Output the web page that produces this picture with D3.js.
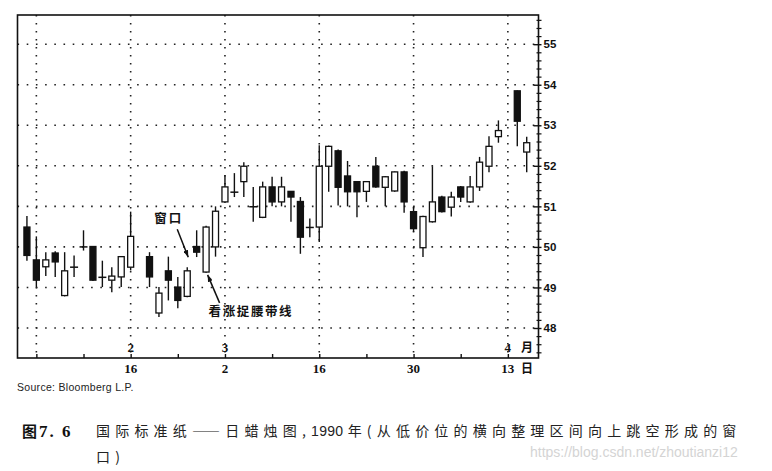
<!DOCTYPE html>
<html lang="zh">
<head>
<meta charset="utf-8">
<script src="https://d3js.org/d3.v7.min.js"></script>
<style>
  body { margin: 0; background: #fff; }
</style>
</head>
<body>
<script>
// daily candles, International Paper, Feb - Apr 1990 (holidays simply absent)
var dates = ["1990-02-01","1990-02-02","1990-02-05","1990-02-06","1990-02-07","1990-02-08","1990-02-09",
  "1990-02-12","1990-02-13","1990-02-14","1990-02-15","1990-02-16",
  "1990-02-20","1990-02-21","1990-02-22","1990-02-23","1990-02-26","1990-02-27","1990-02-28",
  "1990-03-01","1990-03-02","1990-03-05","1990-03-06","1990-03-07","1990-03-08","1990-03-09",
  "1990-03-12","1990-03-13","1990-03-14","1990-03-15","1990-03-16","1990-03-19","1990-03-20",
  "1990-03-21","1990-03-22","1990-03-23","1990-03-26","1990-03-27","1990-03-28","1990-03-29",
  "1990-03-30","1990-04-02","1990-04-03","1990-04-04","1990-04-05","1990-04-06","1990-04-09",
  "1990-04-10","1990-04-11","1990-04-12","1990-04-16","1990-04-17"];
var open = [50.49,49.68,49.51,49.85,48.80,49.52,50.02,
  50.01,49.27,49.18,49.26,49.50,
  49.76,48.37,49.41,49.01,48.78,50.01,49.38,
  50.00,51.11,51.37,51.61,51.01,50.73,51.48,
  51.11,51.37,51.12,50.50,50.49,51.99,52.37,
  51.75,51.61,51.37,51.99,51.47,51.38,51.85,
  50.87,49.98,50.62,51.23,50.98,51.48,51.11,
  51.48,51.99,52.72,53.85,52.34];
var high = [50.76,50.26,49.87,49.89,49.87,49.79,50.41,
  50.02,49.66,49.50,49.77,50.87,
  49.87,49.01,49.76,49.26,49.50,50.41,50.52,
  51.00,51.77,51.82,52.09,51.48,51.61,51.73,
  51.73,51.38,51.23,50.70,52.51,52.50,52.40,
  52.12,51.62,51.62,52.22,51.75,51.86,51.88,
  51.00,50.77,51.99,51.26,51.36,51.50,51.75,
  52.22,52.73,53.12,53.86,52.72];
var low = [49.66,49.01,49.28,49.26,48.78,49.26,49.91,
  49.16,49.01,48.88,49.01,49.42,
  49.01,48.27,48.68,48.49,48.76,49.75,49.36,
  49.76,51.08,51.23,51.23,50.62,50.71,51.00,
  51.00,50.62,49.83,50.24,50.12,51.36,51.02,
  51.00,50.73,51.11,51.46,51.00,51.36,50.84,
  50.37,49.75,50.60,50.85,50.75,51.11,51.09,
  51.38,51.84,52.57,52.48,51.84];
var close = [49.79,49.18,49.68,49.63,49.41,49.50,50.00,
  49.18,49.25,49.28,49.76,50.26,
  49.26,48.86,49.18,48.68,49.41,49.87,50.49,
  50.88,51.48,51.35,51.99,50.99,51.48,51.11,
  51.48,51.23,50.24,50.48,51.99,52.48,51.47,
  51.36,51.36,51.61,51.48,51.73,51.85,51.11,
  50.45,50.75,51.11,50.87,51.23,51.23,51.48,
  52.09,52.48,52.87,53.10,52.57];

var priceTicks = [48, 49, 50, 51, 52, 53, 54, 55];
var gridDates = ["1990-02-02","1990-02-16","1990-03-02","1990-03-16","1990-03-30","1990-04-13"];
var weekTickDates = ["1990-02-02","1990-02-09","1990-02-16","1990-02-23","1990-03-02","1990-03-09",
  "1990-03-16","1990-03-23","1990-03-30","1990-04-06","1990-04-13"];
var monthTickDates = ["1990-02-16","1990-03-02","1990-04-13"];
var monthTickText = ["2", "3", "4"];
var dayTickDates = ["1990-02-16","1990-03-02","1990-03-16","1990-03-30","1990-04-13"];
var dayTickText = ["16", "2", "16", "30", "13"];

var width = 772, height = 471;
var frame = {left: 17.5, right: 538.5, top: 15, bottom: 358};

var parse = d3.utcParse("%Y-%m-%d");
var start = parse("1990-01-31");
// position = number of weekdays since the start date
function dayIndex(s) {
  return d3.utcDay.range(start, parse(s)).filter(function(t) {
    var w = t.getUTCDay();
    return w > 0 && w < 6;
  }).length;
}

var x = d3.scaleLinear().domain([0, 55.25]).range([frame.left, frame.right]);
var y = d3.scaleLinear().domain([47.26, 55.72]).range([frame.bottom, frame.top]);

var svg = d3.select("body").append("svg")
    .attr("width", width)
    .attr("height", height);

// dotted grid
svg.append("g").selectAll("line")
    .data(priceTicks)
    .enter().append("line")
    .attr("x1", frame.left).attr("x2", frame.right)
    .attr("y1", function(d) { return y(d); })
    .attr("y2", function(d) { return y(d); })
    .attr("stroke", "#222")
    .attr("stroke-width", 1.6)
    .attr("stroke-dasharray", "1.6,7.6");

svg.append("g").selectAll("line")
    .data(gridDates)
    .enter().append("line")
    .attr("x1", function(d) { return x(dayIndex(d)); })
    .attr("x2", function(d) { return x(dayIndex(d)); })
    .attr("y1", frame.top).attr("y2", frame.bottom)
    .attr("stroke", "#222")
    .attr("stroke-width", 1.6)
    .attr("stroke-dasharray", "1.6,6.4");

svg.append("rect")
    .attr("x", frame.left).attr("y", frame.top)
    .attr("width", frame.right - frame.left)
    .attr("height", frame.bottom - frame.top)
    .attr("fill", "none")
    .attr("stroke", "#111")
    .attr("stroke-width", 1.6);

// right price axis
var minor = y.ticks(40).filter(function(v) { return Math.abs(v - Math.round(v)) > 0.01; });
var minorAxis = svg.append("g")
    .attr("transform", "translate(" + frame.right + ",0)")
    .call(d3.axisRight(y).tickValues(minor).tickSize(3).tickFormat(""));
minorAxis.select(".domain").remove();
minorAxis.selectAll("line").attr("stroke", "#111").attr("stroke-width", 1.2).attr("x1", -2);

var yAxis = svg.append("g")
    .attr("transform", "translate(" + frame.right + ",0)")
    .call(d3.axisRight(y).tickValues(priceTicks).tickSizeInner(-5).tickSizeOuter(0).tickPadding(5));
yAxis.select(".domain").remove();
yAxis.selectAll("line").attr("stroke", "#111").attr("stroke-width", 1.4).attr("x2", 3).attr("x1", -5);
yAxis.selectAll("text")
    .attr("font-family", "'Liberation Sans', Arial, sans-serif")
    .attr("font-size", 11.5)
    .attr("font-weight", "bold")
    .attr("fill", "#111");

// weekly ticks along the bottom edge
var xAxis = svg.append("g")
    .attr("transform", "translate(0," + frame.bottom + ")")
    .call(d3.axisBottom(x).tickValues(weekTickDates.map(dayIndex)).tickSize(-4).tickFormat(""));
xAxis.select(".domain").remove();
xAxis.selectAll("line").attr("stroke", "#111").attr("stroke-width", 1.4);

var labelFont = "'Liberation Serif', 'DejaVu Serif', serif";
svg.append("g").selectAll("text")
    .data(monthTickDates)
    .enter().append("text")
    .attr("x", function(d) { return x(dayIndex(d)); })
    .attr("y", frame.bottom - 6)
    .attr("text-anchor", "middle")
    .attr("font-family", labelFont)
    .attr("font-weight", "bold")
    .attr("font-size", 13)
    .attr("fill", "#111")
    .text(function(d, i) { return monthTickText[i]; });

svg.append("g").selectAll("text")
    .data(dayTickDates)
    .enter().append("text")
    .attr("x", function(d) { return x(dayIndex(d)); })
    .attr("y", frame.bottom + 15)
    .attr("text-anchor", "middle")
    .attr("font-family", labelFont)
    .attr("font-weight", "bold")
    .attr("font-size", 13)
    .attr("fill", "#111")
    .text(function(d, i) { return dayTickText[i]; });

var cjk = "'Noto Sans CJK SC', sans-serif";
svg.append("text").attr("x", 527).attr("y", frame.bottom - 6)
    .attr("text-anchor", "middle").attr("font-family", cjk).attr("font-weight", "bold")
    .attr("font-size", 12).attr("fill", "#111").text("月");
svg.append("text").attr("x", 527).attr("y", frame.bottom + 15)
    .attr("text-anchor", "middle").attr("font-family", cjk).attr("font-weight", "bold")
    .attr("font-size", 12).attr("fill", "#111").text("日");

// candles
var candles = dates.map(function(d, i) {
  return {date: d, o: open[i], h: high[i], l: low[i], c: close[i]};
});
var bodyW = 6;
var node = svg.append("g").selectAll("g")
    .data(candles)
    .enter().append("g")
    .attr("transform", function(d) { return "translate(" + x(dayIndex(d.date)) + ",0)"; });

node.append("line")
    .attr("y1", function(d) { return y(d.h); })
    .attr("y2", function(d) { return y(d.l); })
    .attr("stroke", "#111")
    .attr("stroke-width", 1.4);

node.filter(function(d) { return Math.abs(d.c - d.o) >= 0.04; })
    .append("rect")
    .attr("x", -bodyW / 2)
    .attr("width", bodyW)
    .attr("y", function(d) { return y(Math.max(d.o, d.c)); })
    .attr("height", function(d) { return Math.abs(y(d.o) - y(d.c)); })
    .attr("fill", function(d) { return d.c > d.o ? "#fff" : "#111"; })
    .attr("stroke", "#111")
    .attr("stroke-width", 1.3);

node.filter(function(d) { return Math.abs(d.c - d.o) < 0.04; })
    .append("line")
    .attr("x1", -4).attr("x2", 4)
    .attr("y1", function(d) { return y(d.c); })
    .attr("y2", function(d) { return y(d.c); })
    .attr("stroke", "#111")
    .attr("stroke-width", 1.5);

// annotations
svg.append("defs").append("marker")
    .attr("id", "head")
    .attr("viewBox", "0 0 10 10")
    .attr("refX", 10).attr("refY", 5)
    .attr("markerUnits", "userSpaceOnUse")
    .attr("markerWidth", 7).attr("markerHeight", 5)
    .attr("orient", "auto")
    .attr("preserveAspectRatio", "none")
    .append("path").attr("d", "M0,0L10,5L0,10z").attr("fill", "#111");

var iWin = dates.indexOf("1990-02-26");
var tip1 = [x(dayIndex(dates[iWin])) + 1, y(high[iWin]) - 10];
svg.append("line")
    .attr("x1", tip1[0] - 11).attr("y1", tip1[1] - 28)
    .attr("x2", tip1[0]).attr("y2", tip1[1])
    .attr("stroke", "#111").attr("stroke-width", 1.5)
    .attr("marker-end", "url(#head)");
svg.append("text")
    .attr("x", tip1[0] - 34).attr("y", tip1[1] - 34)
    .attr("font-family", cjk).attr("font-weight", "bold").attr("font-size", 12.5)
    .attr("letter-spacing", 2).attr("fill", "#111")
    .text("窗口");

var iBelt = dates.indexOf("1990-02-28");
var tip2 = [x(dayIndex(dates[iBelt])) + 1.5, y(low[iBelt]) + 2];
svg.append("line")
    .attr("x1", tip2[0] + 12).attr("y1", tip2[1] + 28)
    .attr("x2", tip2[0]).attr("y2", tip2[1])
    .attr("stroke", "#111").attr("stroke-width", 1.5)
    .attr("marker-end", "url(#head)");
svg.append("text")
    .attr("x", tip2[0] + 1).attr("y", tip2[1] + 41)
    .attr("font-family", cjk).attr("font-weight", "bold").attr("font-size", 12.5)
    .attr("letter-spacing", 1.6).attr("fill", "#111")
    .text("看涨捉腰带线");

// source + caption
svg.append("text")
    .attr("x", 17).attr("y", 391)
    .attr("font-family", "'Liberation Sans', Arial, sans-serif")
    .attr("font-size", 10.5).attr("letter-spacing", 0.3).attr("fill", "#222")
    .text("Source: Bloomberg L.P.");

svg.append("text")
    .attr("x", 22).attr("y", 437)
    .attr("font-family", cjk).attr("font-weight", "bold").attr("font-size", 15)
    .attr("fill", "#111").text("图");
svg.append("text")
    .attr("x", 39).attr("y", 437)
    .attr("font-family", labelFont).attr("font-weight", "bold").attr("font-size", 17)
    .attr("letter-spacing", 2).attr("fill", "#111").text("7. 6");

var caption = svg.append("text")
    .attr("font-family", cjk).attr("font-size", 14)
    .attr("fill", "#222");
var line1 = caption.append("tspan").attr("x", 96).attr("y", 436);
line1.append("tspan").attr("letter-spacing", 5.2).text("国际标准纸——日蜡烛图,");
line1.append("tspan").attr("letter-spacing", 0.3).attr("font-family", "'Liberation Sans', Arial, sans-serif")
    .text("1990 ");
line1.append("tspan").attr("letter-spacing", 5.2).text("年(从低价位的横向整理区间向上跳空形成的窗");
caption.append("tspan").attr("x", 96).attr("y", 462).attr("letter-spacing", 5.2).text("口)");

svg.append("text")
    .attr("x", 530).attr("y", 457)
    .attr("font-family", "'Liberation Sans', Arial, sans-serif")
    .attr("font-size", 14).attr("fill", "#d4d4d4")
    .text("https://blog.csdn.net/zhoutianzi12");
</script>
</body>
</html>
